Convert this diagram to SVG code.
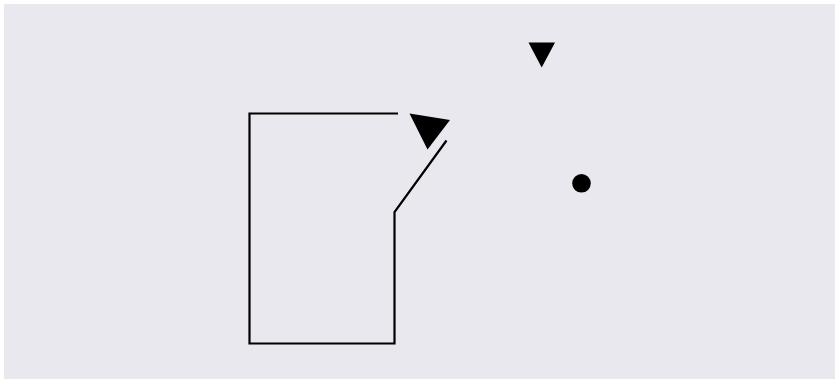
<svg xmlns="http://www.w3.org/2000/svg" width="836" height="380" viewBox="0 0 836 380">
<style>
.edge{fill:none;stroke:#000;stroke-width:2.2;stroke-linejoin:miter}
.head{fill:#000;stroke:none}
</style>
<rect x="0" y="0" width="836" height="380" fill="#ffffff"/>
<rect x="4" y="4" width="831" height="375" fill="#e8e8ee"/>
<g id="connectors">
<polyline class="edge" points="398,113.5 249.5,113.5 249.5,343.5 394.5,343.5 394.5,212 446.5,140.5"/>
<polygon class="head" points="409.5,113.5 450,120 427.5,149.5"/>
</g>
<g id="node-triangle">
<polygon class="head" points="528.5,42.5 555,42.5 541.7,67.5"/>
</g>
<g id="node-dot">
<circle cx="581.5" cy="183.3" r="9.3" fill="#000"/>
</g>
</svg>
